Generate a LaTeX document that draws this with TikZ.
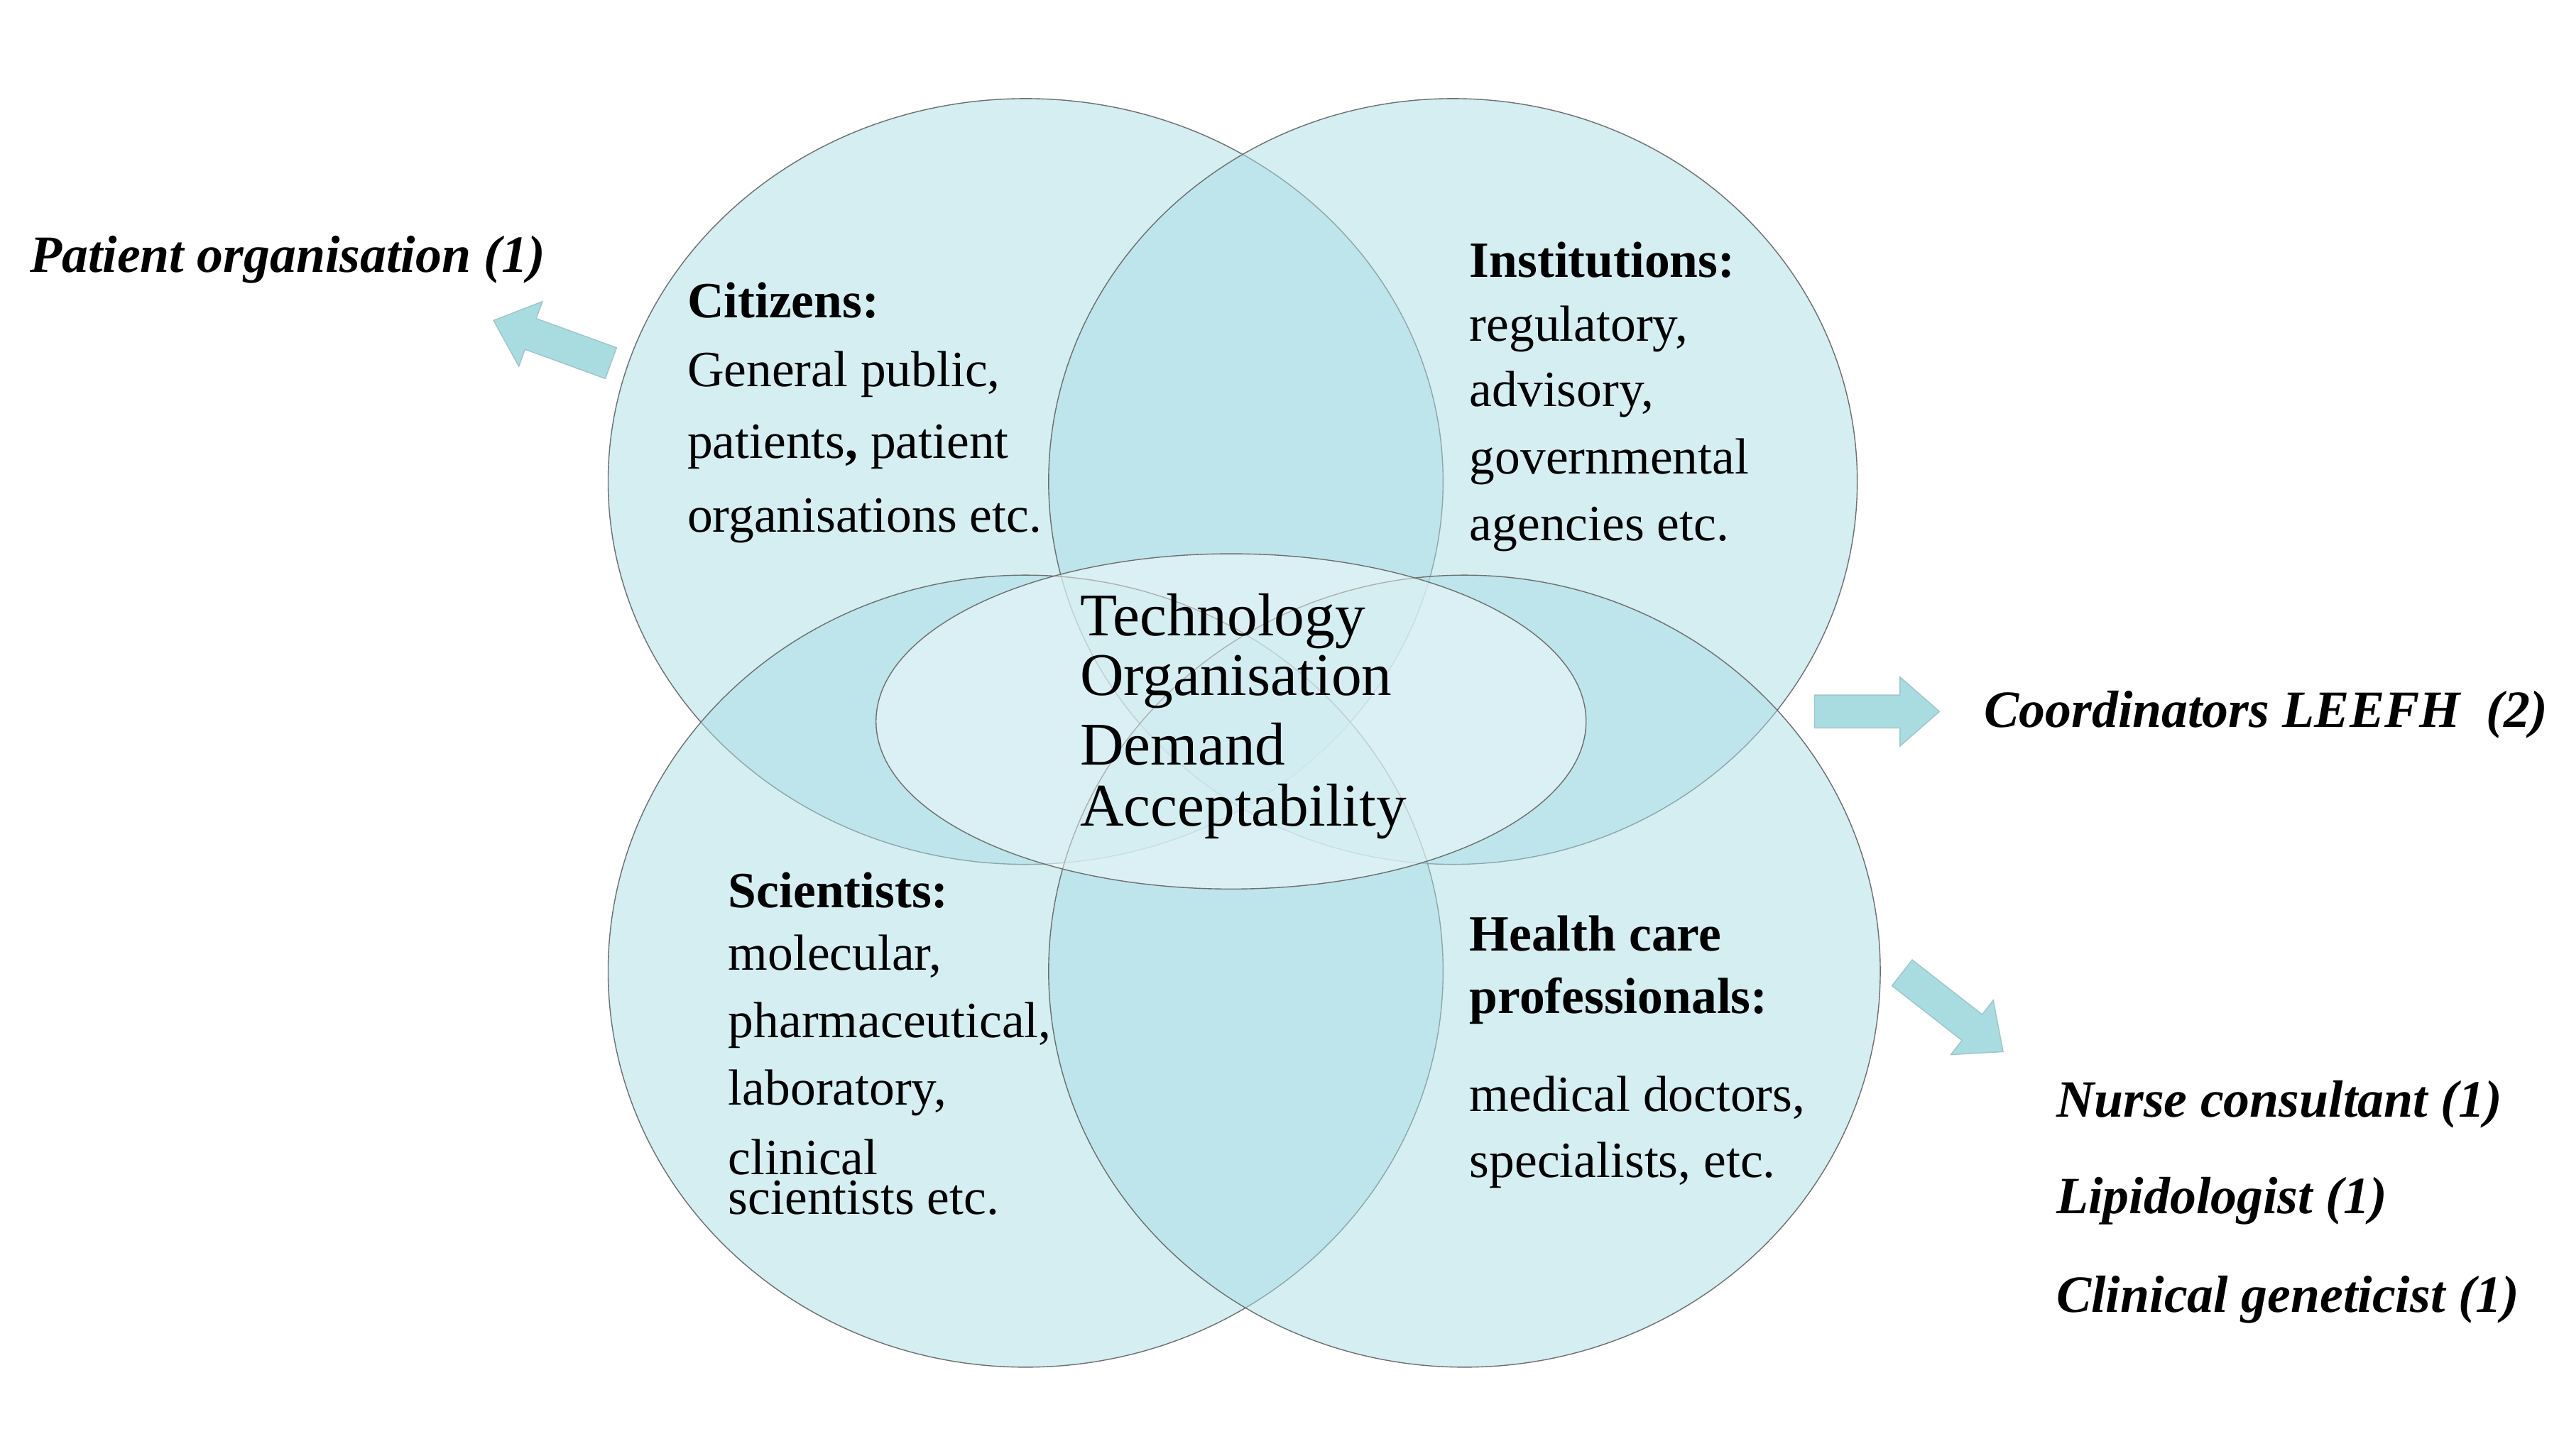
\documentclass[tikz,border=0pt]{standalone}
\usepackage{fontspec}
\setmainfont{Liberation Serif}
\definecolor{vfill}{RGB}{170,222,230}
\definecolor{arr}{RGB}{168,220,224}
\definecolor{edge}{RGB}{110,110,110}
\tikzset{
 venn/.style={fill=vfill,fill opacity=0.5,draw=edge,line width=0.6bp,draw opacity=1},
 txt/.style={anchor=west,inner sep=0,font=\fontsize{31}{34}\selectfont},
 hd/.style={txt,font=\fontsize{31}{34}\selectfont\bfseries},
 bi/.style={txt,font=\fontsize{32}{34}\selectfont\bfseries\itshape},
 ctr/.style={txt,font=\fontsize{37}{40}\selectfont},
 barrow/.style={fill=arr,draw=arr!75!gray,line width=0.6bp}
}
\newcommand{\blockarrow}[3]{%
 \begin{scope}[shift={#1},rotate=#2]
 \draw[barrow] (-#3/2,-10) -- (#3/2-24,-10) -- (#3/2-24,-21) -- (#3/2,0) -- (#3/2-24,21) -- (#3/2-24,10) -- (-#3/2,10) -- cycle;
 \end{scope}}
\begin{document}
\begin{tikzpicture}[x=1bp,y=-1bp]
\useasboundingbox (0,0) rectangle (1560,886);
\fill[white] (0,0) rectangle (1560,886);
\draw[venn] (624,293) ellipse [x radius=254,y radius=233];
\draw[venn] (884,293) ellipse [x radius=246,y radius=233];
\draw[venn] (624,591) ellipse [x radius=254,y radius=241];
\draw[venn] (891,591) ellipse [x radius=253,y radius=241];
\draw[fill=white,fill opacity=0.45,draw=edge,line width=0.6bp,draw opacity=1] (749,439) ellipse [x radius=216,y radius=102];

\blockarrow{(336,208)}{160}{76}
\blockarrow{(1142,433)}{0}{76}
\blockarrow{(1188,616)}{-38}{78}

\node[bi] (po) at (18,158) {Patient organisation (1)};
\node[hd] (c0) at (418,183) {Citizens:};
\node[txt] (c1) at (418,228) {General public,};
\node[txt] (c2) at (418,272) {patients\textbf{,} patient};
\node[txt] (c3) at (418,317) {organisations etc.};

\node[hd] (i0) at (894,158) {Institutions:};
\node[txt] (i1) at (894,200) {regulatory,};
\node[txt] (i2) at (894,240) {advisory,};
\node[txt] (i3) at (894,281) {governmental};
\node[txt] (i4) at (894,322) {agencies etc.};

\node[ctr] (t1) at (657,378) {Technology};
\node[ctr] (t2) at (657,415) {Organisation};
\node[ctr] (t3) at (657,453) {Demand};
\node[ctr] (t4) at (657,494) {Acceptability};

\node[hd] (s0) at (443,542) {Scientists:};
\node[txt] (s1) at (443,582) {molecular,};
\node[txt] (s2) at (443,624) {pharmaceutical,};
\node[txt] (s3) at (443,665) {laboratory,};
\node[txt] (s4) at (443,704) {clinical};
\node[txt] (s5) at (443,729) {scientists etc.};

\node[hd] (h0) at (894,568) {Health care};
\node[hd] (h1) at (894,609) {professionals:};
\node[txt] (h2) at (894,668) {medical doctors,};
\node[txt] (h3) at (894,709) {specialists, etc.};

\node[bi] (co) at (1207,435) {Coordinators LEEFH~~(2)};
\node[bi] (n1) at (1251,672) {Nurse consultant (1)};
\node[bi] (n2) at (1251,731) {Lipidologist (1)};
\node[bi] (n3) at (1251,791) {Clinical geneticist (1)};
\end{tikzpicture}
\end{document}
